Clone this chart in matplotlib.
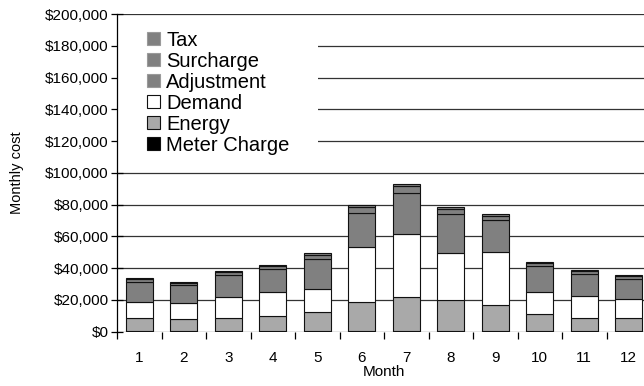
import numpy as np
import matplotlib
matplotlib.use("Agg")
import matplotlib.pyplot as plt
from matplotlib.patches import Patch, Rectangle
from matplotlib.ticker import FuncFormatter, MultipleLocator

plt.rcParams["font.family"] = ["Liberation Sans", "DejaVu Sans"]

# Monthly utility bill components, in dollars, stacked bottom to top
months = list(range(1, 13))
meter_charge = [200] * 12
energy = [8600, 7800, 8600, 9900, 12000, 18700, 21600, 19600, 16800, 10700, 8600, 8600]
demand = [9700, 9900, 12800, 14700, 14500, 34200, 39500, 29600, 33400, 14300, 13900, 11800]
adjustment = [12700, 11500, 14000, 14500, 18900, 21800, 26200, 24500, 19900, 16000, 13600, 12800]
surcharge = [1800, 1500, 2200, 2000, 2600, 3600, 4000, 3300, 2600, 2000, 1700, 1600]
tax = [800, 700, 700, 1000, 1100, 1100, 1300, 1300, 1000, 700, 600, 500]

components = [
    ("Meter Charge", meter_charge, "#000000"),
    ("Energy", energy, "#a9a9a9"),
    ("Demand", demand, "#ffffff"),
    ("Adjustment", adjustment, "#808080"),
    ("Surcharge", surcharge, "#808080"),
    ("Tax", tax, "#808080"),
]

fig = plt.figure(figsize=(6.44, 3.86), dpi=100)
ax = fig.add_axes([117 / 644, 54.3 / 386, 534 / 644, 317.7 / 386])

bottom = np.zeros(len(months))
for name, vals, color in components:
    ax.bar(months, vals, width=0.6, bottom=bottom, color=color,
           edgecolor="#111111", linewidth=0.8, zorder=3)
    bottom += np.array(vals)

ax.set_xlim(0.5, 12.5)
ax.set_ylim(0, 200000)
ax.yaxis.set_major_locator(MultipleLocator(20000))
ax.yaxis.set_major_formatter(FuncFormatter(lambda v, _: f"${v:,.0f}"))
ax.grid(axis="y", color="#333333", linewidth=0.9, zorder=0.5)
ax.set_axisbelow(True)

ax.set_xticks(months)
ax.set_xticks(np.arange(0.5, 12.5, 1.0), minor=True)
ax.tick_params(axis="x", which="major", length=0, pad=14, labelsize=11)
ax.tick_params(axis="x", which="minor", length=5, direction="out", width=0.9)
ax.tick_params(axis="y", length=8, direction="inout", width=0.9, labelsize=11, pad=2)

for side in ("top", "right", "bottom"):
    ax.spines[side].set_visible(False)
ax.spines["left"].set_linewidth(0.9)

ax.set_xlabel("Month", fontsize=11, labelpad=0)
ax.set_ylabel("Monthly cost", fontsize=10.5, labelpad=15)

# white patch behind the legend hides the gridlines there
ax.add_patch(Rectangle((0.0, 0.525), 0.376, 0.46, transform=ax.transAxes,
                       facecolor="white", edgecolor="none", zorder=2.5))

handles = [Patch(facecolor=c, edgecolor="#111111" if name in ("Demand", "Energy", "Meter Charge") else "#9a9a9a",
                 linewidth=0.8, label=name)
           for name, _, c in reversed(components)]
ax.legend(handles=handles, loc="upper left", bbox_to_anchor=(0.056, 0.948),
          frameon=False, fontsize=14.5, borderaxespad=0, borderpad=0,
          handlelength=0.65, handleheight=0.65, handletextpad=0.3,
          labelspacing=0.1)

fig.savefig("out.png", dpi=100)
